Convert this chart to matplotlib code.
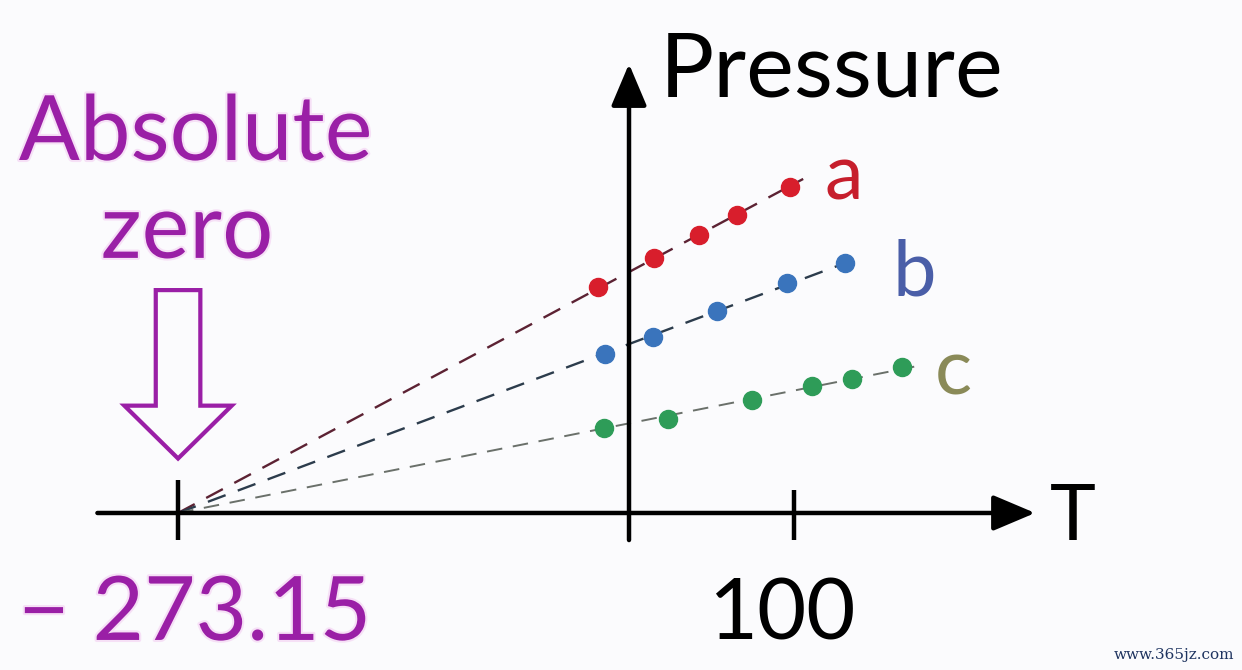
import matplotlib.pyplot as plt
import matplotlib.patheffects as pe
from matplotlib.patches import FancyArrow
import numpy as np

plt.rcParams['font.family'] = ['Lato', 'DejaVu Sans']

# gas law data: temperature (C) vs pressure (arbitrary units)
abs_zero = -273.15
T_a = [-18.8, 15.1, 42.4, 65.4, 97.5]
P_a = [136.9, 154.5, 168.4, 180.5, 197.5]
T_b = [-14.5, 14.5, 53.3, 95.7, 130.8]
P_b = [96.3, 106.6, 122.4, 139.3, 151.4]
T_c = [-15.1, 23.6, 74.5, 110.8, 135.1, 165.4]
P_c = [51.5, 56.9, 68.4, 76.9, 81.2, 88.4]
series_names = ['a', 'b', 'c']
tick_values = [abs_zero, 100]
tick_labels = ['\u2212 273.15', '100']

fig = plt.figure(figsize=(12.42, 6.70), dpi=100)
fig.patch.set_facecolor('#fbfbfd')
ax = fig.add_axes([0, 0, 1, 1])
ax.set_xlim(-381.0, 371.3)
ax.set_ylim(-95.1, 310.7)
ax.axis('off')

purple = '#9a1fa6'
glow = [pe.withStroke(linewidth=3, foreground='#f6e0f6')]

# axes arrows
arrow_kw = dict(arrowstyle='-|>,head_length=1.3,head_width=0.55', lw=3.2,
                color='black', shrinkA=0, shrinkB=0, mutation_scale=20)
ax.annotate('', xy=(246, 0), xytext=(-322, 0), arrowprops=arrow_kw)
ax.annotate('', xy=(0, 272), xytext=(0, -16.4), arrowprops=arrow_kw)
for tv, top in zip(tick_values, [20, 14]):
    ax.plot([tv, tv], [-16.4, top], color='black', lw=3.2, solid_capstyle='butt')

dot_colors = ['#d81e2c', '#3a74bc', '#2e9c58']
line_colors = ['#5c2233', '#2c3c4c', '#6a706a']
text_colors = ['#c61e2c', '#4a5ea8', '#8a8a58']
line_w = [1.7, 1.7, 1.4]
label_pos = [(118.7, 189.6), (159.9, 132.0), (185.3, 71.5)]

for i, (T, P) in enumerate([(T_a, P_a), (T_b, P_b), (T_c, P_c)]):
    T = np.array(T)
    P = np.array(P)
    # straight line through absolute zero fitted to the points
    dx = T - abs_zero
    slope = np.sum(dx * P) / np.sum(dx * dx)
    t_end = T.max() + 8
    ax.plot([abs_zero, t_end], [0, slope * (t_end - abs_zero)],
            color=line_colors[i], lw=line_w[i], dashes=(8, 5.5), zorder=2)
    ax.plot(T, P, 'o', ms=13, color=dot_colors[i], mec=dot_colors[i], zorder=3)
    ax.text(label_pos[i][0], label_pos[i][1], series_names[i], fontsize=56,
            color=text_colors[i], va='baseline', ha='left')

ax.text(18.8, 252, 'Pressure', fontsize=65, color='black', va='baseline', ha='left')
ax.text(255, -16.4, 'T', fontsize=56, color='black', va='baseline', ha='left')

ax.text(-262.5, 213.8, 'Absolute', fontsize=65, color=purple, va='baseline',
        ha='center', path_effects=glow)
ax.text(-267.7, 154.5, 'zero', fontsize=65, color=purple, va='baseline',
        ha='center', path_effects=glow)

hollow = FancyArrow(abs_zero, 135, 0, -102, width=27, head_width=65,
                    head_length=32, length_includes_head=True, fill=False,
                    ec=purple, lw=3, path_effects=glow)
ax.add_patch(hollow)

ax.text(-370, -76.9, tick_labels[0], fontsize=64, color=purple, va='baseline',
        ha='left', path_effects=glow)
ax.text(92.7, -76.9, tick_labels[1], fontsize=61, color='black', va='baseline',
        ha='center')

ax.text(0.994, 0.012, 'www.365jz.com', transform=ax.transAxes, fontsize=11,
        color='#1f3460', ha='right', va='bottom', family='DejaVu Serif')

fig.savefig('out.png', dpi=100, facecolor=fig.get_facecolor())
